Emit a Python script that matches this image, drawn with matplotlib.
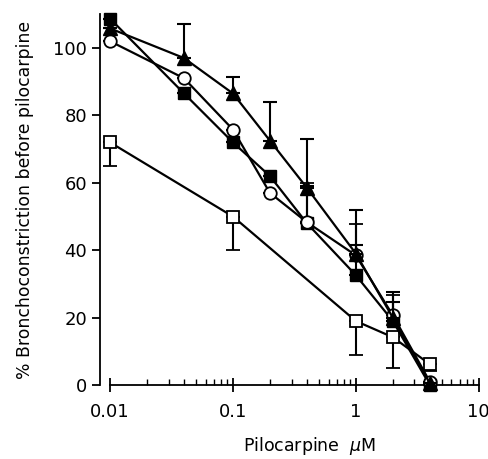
import matplotlib
matplotlib.use("Agg")
import matplotlib.pyplot as plt
from matplotlib.ticker import FixedLocator, NullFormatter, LogLocator

conc = [0.01, 0.04, 0.1, 0.2, 0.4, 1, 2, 4]
conc_open = [0.01, 0.1, 1, 2, 4]

tri = [105.8, 97, 86.5, 72.5, 58.5, 39, 20, 0.5]
tri_up = [0, 10, 5, 11.5, 14.5, 13, 7.6, 0]

circ = [102, 91, 75.8, 57, 48.3, 38.5, 20.7, 1]
circ_up = [0, 0, 0, 0, 11.7, 9.2, 6, 0]

fsq = [108.7, 86.5, 72, 62, 48, 32.6, 19, 0]
fsq_up = [0, 0, 0, 0, 11, 9, 5.6, 0]

osq = [72, 50, 19, 14.2, 6.2]
osq_dn = [7, 10, 10, 9, 2]

xticks = [0.01, 0.1, 1, 10]
xticklabels = ["0.01", "0.1", "1", "10"]
yticks = [0, 20, 40, 60, 80, 100]

plt.rcParams['font.family'] = ['DejaVu Sans']
fig = plt.figure(figsize=(4.89, 4.59), dpi=100)
ax = fig.add_axes([0.225, 0.161, 0.754, 0.808])

lw = 1.6
ms = 8.5
common = dict(color='black', lw=lw, elinewidth=1.5, capsize=5, capthick=1.5, clip_on=False)

ax.errorbar(conc_open, osq, yerr=[osq_dn, [0]*len(osq)], marker='s', ms=ms, mfc='white', mec='black', mew=1.3, zorder=2, **common)
ax.errorbar(conc, fsq, yerr=[[0]*len(fsq), fsq_up], marker='s', ms=ms, mfc='black', mec='black', zorder=3, **common)
ax.errorbar(conc, circ, yerr=[[0]*len(circ), circ_up], marker='o', ms=ms + 0.5, mfc='white', mec='black', mew=1.3, zorder=4, **common)
ax.errorbar(conc, tri, yerr=[[0]*len(tri), tri_up], marker='^', ms=ms + 1.5, mfc='black', mec='black', zorder=5, **common)

ax.set_xscale('log')
ax.set_xlim(0.01, 10)
ax.set_ylim(0, 110)
ax.xaxis.set_major_locator(FixedLocator(xticks))
ax.set_xticklabels(xticklabels)
ax.xaxis.set_minor_locator(LogLocator(base=10, subs=range(2, 10)))
ax.xaxis.set_minor_formatter(NullFormatter())
ax.set_yticks(yticks)

ax.spines['top'].set_visible(False)
ax.spines['right'].set_visible(False)
ax.spines['left'].set_position(('outward', 7))
for s in ['left', 'bottom']:
    ax.spines[s].set_linewidth(1.3)

ax.tick_params(axis='x', which='major', direction='inout', length=10, width=1.3, labelsize=13, pad=8)
ax.tick_params(axis='x', which='minor', direction='in', length=4, width=1.0)
ax.tick_params(axis='y', which='major', direction='out', length=6, width=1.3, labelsize=13)

ax.set_xlabel(r"Pilocarpine  $\mu$M", fontsize=12.5)
ax.xaxis.set_label_coords(0.54, -0.135)
ax.set_ylabel("% Bronchoconstriction before pilocarpine", fontsize=12.4)
ax.yaxis.set_label_coords(-0.205, 0.5)

fig.savefig("out.png", dpi=100)
